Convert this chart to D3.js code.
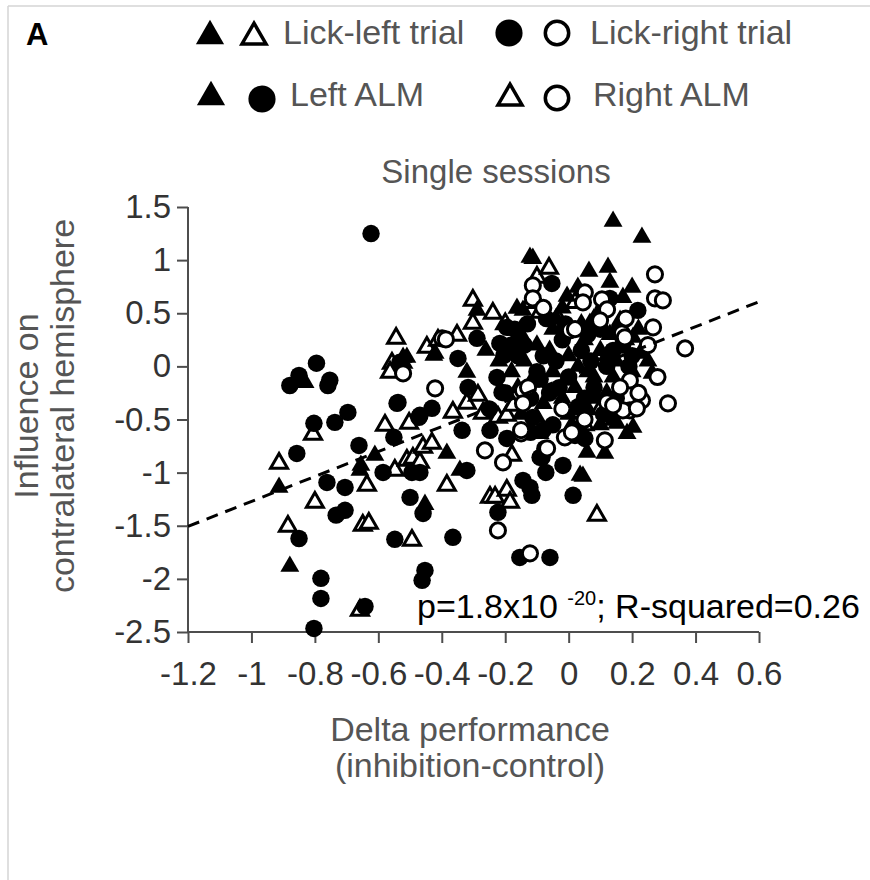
<!DOCTYPE html>
<html lang="en">
<head>
<meta charset="UTF-8">
<script src="https://d3js.org/d3.v7.min.js"></script>
<style>
  html, body { margin: 0; padding: 0; background: #fff; }
  svg { display: block; font-family: "Liberation Sans", Arial, sans-serif; }
</style>
</head>
<body>
<svg id="chart" width="870" height="880"></svg>
<script>
// lick-left trials, left ALM (filled triangles)
const leftAlmLickLeft = [
  [-0.831,-0.151],[-0.913,-1.139],[-0.879,-1.882],[-0.611,-0.838],[-0.655,-0.932],[-0.658,-0.979],
  [-0.522,0.085],[-0.519,0.028],[-0.425,0.104],[-0.453,-1.30],[-0.384,-0.819],
  [-0.122,1.026],[-0.289,0.527],[-0.163,0.546],[-0.144,0.527],[-0.261,0.151],[-0.421,0.122],
  [-0.51,0.085],[-0.321,-0.056],[-0.343,-0.979],[0.036,-1.026],
  [0.14,1.365],[0.231,1.214],[-0.113,1.016],[0.064,0.894],[0.124,0.932],[0.13,0.791],[0.20,0.744],
  [-0.005,0.659],[0.029,0.744],[0.171,0.649],[-0.021,0.358],[0.067,0.405],[0.162,0.433],
  [0.203,0.273],[0.225,0.122],[0.263,-0.066],[0.14,-0.508],[0.203,-0.574],
  [0.152,-0.536],[0.184,-0.631],[0.058,-0.809],[0.114,-0.819],[0.042,-0.602],[0.045,-1.035],[-0.09,-0.631],
  [-0.15,0.30],[-0.10,0.20],[-0.05,0.35],[0.0,0.10],[0.05,0.25],[0.10,0.15],[0.15,0.05],[0.20,-0.05],
  [-0.18,-0.05],[-0.12,-0.15],[-0.05,-0.05],[0.02,-0.20],[0.08,-0.10],[0.12,-0.25],[0.18,-0.15],
  [-0.08,-0.35],[0.0,-0.45],[0.06,-0.40],[0.10,-0.55],[-0.15,-0.45],[0.22,0.35],[-0.02,0.55],
  [0.08,0.45],[0.25,0.05],[-0.22,0.05],[0.03,0.00],[0.13,0.30],
  [-0.14,0.05],[-0.06,0.15],[0.04,0.40],[0.09,-0.30],[0.16,-0.42],[-0.02,-0.30],[-0.10,-0.48],
  [0.12,0.10],[0.18,0.25],[-0.04,0.45],[0.06,-0.05],[0.14,-0.10],[-0.16,-0.20],[0.01,-0.55]
];
// lick-right trials, left ALM (filled circles)
const leftAlmLickRight = [
  [-0.795,0.03],[-0.85,-0.085],[-0.879,-0.18],[-0.753,-0.13],[-0.759,-0.18],[-0.696,-0.433],
  [-0.737,-0.527],[-0.803,-0.536],[-0.857,-0.819],[-0.762,-1.092],[-0.705,-1.139],[-0.733,-1.40],
  [-0.705,-1.355],[-0.85,-1.62],[-0.781,-1.995],[-0.781,-2.184],[-0.803,-2.466],[-0.642,-2.26],
  [-0.661,-0.744],[-0.585,-0.998],[-0.551,-0.668],[-0.541,-0.348],[-0.472,-0.48],[-0.431,-0.395],
  [-0.494,-0.998],[-0.469,-0.998],[-0.50,-1.233],[-0.459,-1.384],[-0.548,-1.628],[-0.453,-1.92],[-0.462,-2.014],
  [-0.623,1.25],[-0.195,0.367],[-0.289,0.264],[-0.217,0.216],[-0.204,0.104],[-0.532,0.038],[-0.349,0.075],
  [-0.317,-0.198],[-0.538,-0.339],[-0.226,-0.104],[-0.21,-0.245],
  [-0.469,-0.461],[-0.336,-0.602],[-0.248,-0.602],[-0.195,-0.678],[-0.113,-0.48],[-0.081,-0.602],
  [-0.084,-0.856],[-0.018,-0.932],[-0.072,-0.998],[-0.321,-0.979],[-0.144,-1.073],[-0.122,-1.139],
  [-0.116,-1.214],[-0.223,-1.374],[0.014,-1.214],[-0.365,-1.609],[-0.154,-1.798],[-0.059,-1.798],
  [0.218,0.527],[0.13,0.64],[-0.053,0.781],[0.108,0.527],[0.051,-0.678],[-0.09,-0.856],[-0.075,-0.772],
  [-0.13,0.40],[-0.08,0.10],[-0.02,0.25],[0.04,0.15],[0.12,0.00],[0.17,0.20],[-0.16,0.10],[-0.10,-0.05],
  [-0.03,-0.20],[0.05,-0.30],[0.15,-0.30],[-0.12,-0.30],[-0.05,-0.55],[0.02,-0.65],[-0.20,-0.25],
  [0.10,0.35],[0.20,0.10],[-0.07,0.45],[0.00,-0.10],[0.07,0.05],[-0.25,-0.40],[-0.18,0.20],
  [-0.14,0.20],[-0.04,0.05],[0.06,0.30],[0.14,0.15],[-0.09,-0.12],[0.03,-0.38],[0.11,-0.45],
  [-0.06,-0.25],[0.19,0.00],[-0.17,0.35],[0.08,-0.20],[-0.01,0.40],[-0.12,-0.62],[0.16,0.35]
];
// lick-left trials, right ALM (open triangles)
const rightAlmLickLeft = [
  [-0.806,-0.64],[-0.913,-0.913],[-0.80,-1.28],[-0.885,-1.506],[-0.658,-2.296],[-0.649,-1.496],
  [-0.63,-1.478],[-0.636,-1.12],[-0.548,-0.979],[-0.579,-0.555],[-0.503,-0.536],[-0.544,0.264],
  [-0.557,0.028],[-0.563,-0.056],[-0.447,0.179],[-0.51,-0.885],[-0.491,-0.866],[-0.469,-0.904],
  [-0.459,-0.762],[-0.431,-0.725],[-0.384,-1.12],[-0.494,-1.638],
  [-0.10,0.838],[-0.302,0.621],[-0.239,0.499],[-0.302,0.405],[-0.412,0.245],[-0.352,0.292],
  [-0.365,-0.433],[-0.321,-0.348],[-0.286,-0.273],[-0.27,-0.442],
  [-0.223,-0.48],[-0.195,-0.461],[-0.176,-0.367],[-0.179,-0.838],[-0.248,-1.233],[-0.232,-1.233],
  [-0.195,-1.167],[-0.185,-1.28],[-0.062,0.922],[-0.09,0.508],[-0.034,0.452],[0.089,-1.402],
  [-0.2,0.40],[0.05,-0.55],[-0.12,0.60],[0.10,-0.40],[0.02,0.60]
];
// lick-right trials, right ALM (open circles)
const rightAlmLickRight = [
  [-0.522,-0.066],[-0.399,0.264],[-0.421,-0.207],[-0.113,0.762],[-0.113,0.64],[-0.387,0.254],
  [-0.144,-0.226],[-0.128,-0.198],[-0.144,-0.348],[-0.15,-0.631],[-0.264,-0.791],[-0.207,-0.904],
  [-0.068,-0.772],[-0.223,-1.544],[-0.122,-1.76],
  [0.272,0.866],[0.051,0.696],[0.045,0.602],[0.105,0.631],[0.272,0.64],[0.297,0.621],[0.266,0.367],
  [0.121,0.536],[0.162,0.311],[0.004,0.339],[0.099,0.433],
  [0.367,0.169],[0.313,-0.348],[0.231,-0.32],[0.193,-0.414],[0.171,-0.414],[0.121,-0.339],[0.14,-0.367],
  [0.168,0.311],[0.177,0.273],[0.193,-0.132],[0.162,-0.198],
  [0.215,-0.395],[0.114,-0.696],[-0.012,-0.668],[0.01,-0.621],
  [0.02,0.35],[0.05,-0.50],[-0.02,-0.40],[0.22,-0.25],[0.25,0.20],[-0.15,-0.60],[0.18,0.45],
  [0.28,-0.10],[-0.08,0.55]
];

const xTicks = [-1.2, -1, -0.8, -0.6, -0.4, -0.2, 0, 0.2, 0.4, 0.6];
const xTickLabels = ["-1.2", "-1", "-0.8", "-0.6", "-0.4", "-0.2", "0", "0.2", "0.4", "0.6"];
const yTicks = [1.5, 1, 0.5, 0, -0.5, -1, -1.5, -2, -2.5];
const yTickLabels = ["1.5", "1", "0.5", "0", "-0.5", "-1", "-1.5", "-2", "-2.5"];

// regression line end points
const fitX = [-1.2, 0.61];
const fitY = [-1.506, 0.62];

const svg = d3.select('#chart');

// light frame of the panel
svg.append('line').attr('x1', 8).attr('x2', 8).attr('y1', 6).attr('y2', 880)
  .attr('stroke', '#d4d4d4').attr('stroke-width', 1.5);
svg.append('line').attr('x1', 8).attr('x2', 870).attr('y1', 6).attr('y2', 6)
  .attr('stroke', '#d4d4d4').attr('stroke-width', 1.5);

const x = d3.scaleLinear().domain([-1.2, 0.6]).range([188, 759]);
const y = d3.scaleLinear().domain([-2.5, 1.5]).range([632, 207]);

const axisColor = '#4d4d4d';

// axes
const gx = svg.append('g')
  .attr('transform', `translate(0,${y(-2.5)})`)
  .call(d3.axisBottom(x).tickValues(xTicks).tickSize(11).tickPadding(19)
    .tickFormat((d, i) => xTickLabels[i]));
const gy = svg.append('g')
  .attr('transform', `translate(${x(-1.2)},0)`)
  .call(d3.axisLeft(y).tickValues(yTicks).tickSize(11).tickPadding(6)
    .tickFormat((d, i) => yTickLabels[i]));

[gx, gy].forEach(g => {
  g.select('.domain').attr('stroke', axisColor).attr('stroke-width', 2);
  g.selectAll('.tick line').attr('stroke', axisColor).attr('stroke-width', 2);
  g.selectAll('.tick text')
    .attr('fill', '#333')
    .style('font-size', '33px')
    .style('font-family', '"Liberation Sans", Arial, sans-serif');
});
gx.selectAll('.domain').attr('d', `M${x(-1.2)},0H${x(0.6)}`);
gy.selectAll('.domain').attr('d', `M0,${y(1.5)}V${y(-2.5)}`);

// markers
const triFill = d3.symbol().type(d3.symbolTriangle).size(155);
const triOpen = d3.symbol().type(d3.symbolTriangle).size(125);
const circFill = d3.symbol().type(d3.symbolCircle).size(240);
const circOpen = d3.symbol().type(d3.symbolCircle).size(180);

function drawSet(data, gen, filled) {
  svg.append('g')
    .selectAll('path')
    .data(data)
    .enter()
    .append('path')
    .attr('transform', d => `translate(${x(d[0])},${y(d[1])})`)
    .attr('d', gen)
    .attr('fill', filled ? '#000' : '#fff')
    .attr('stroke', '#000')
    .attr('stroke-width', filled ? 0 : 3);
}

drawSet(rightAlmLickLeft, triOpen, false);
drawSet(leftAlmLickRight, circFill, true);
drawSet(leftAlmLickLeft, triFill, true);
drawSet(rightAlmLickRight, circOpen, false);

// regression line
svg.append('line')
  .attr('x1', x(fitX[0])).attr('y1', y(fitY[0]))
  .attr('x2', x(fitX[1])).attr('y2', y(fitY[1]))
  .attr('stroke', '#000')
  .attr('stroke-width', 3)
  .attr('stroke-dasharray', '12,8');

// statistics
const stat = svg.append('text')
  .attr('x', 417).attr('y', 618)
  .attr('fill', '#000')
  .style('font-size', '34px');
stat.append('tspan').text('p=1.8x10 ');
stat.append('tspan').attr('dy', -13).style('font-size', '20px').text('-20');
stat.append('tspan').attr('dy', 13).text('; R-squared=0.26');

// titles
svg.append('text')
  .attr('x', 26).attr('y', 45)
  .style('font-size', '31px').style('font-weight', 'bold')
  .attr('fill', '#000')
  .text('A');

svg.append('text')
  .attr('x', 496).attr('y', 183)
  .attr('text-anchor', 'middle')
  .attr('fill', '#555')
  .style('font-size', '33px')
  .text('Single sessions');

svg.append('text')
  .attr('x', 470).attr('y', 741)
  .attr('text-anchor', 'middle')
  .attr('fill', '#555')
  .style('font-size', '34px')
  .text('Delta performance');
svg.append('text')
  .attr('x', 470).attr('y', 777)
  .attr('text-anchor', 'middle')
  .attr('fill', '#555')
  .style('font-size', '34px')
  .text('(inhibition-control)');

const yLab = svg.append('g').attr('transform', 'translate(0,406) rotate(-90)');
yLab.append('text').attr('x', 0).attr('y', 38)
  .attr('text-anchor', 'middle').attr('fill', '#555').style('font-size', '34px')
  .text('Influence on');
yLab.append('text').attr('x', 0).attr('y', 74)
  .attr('text-anchor', 'middle').attr('fill', '#555').style('font-size', '34px')
  .text('contralateral hemisphere');

// legend
const legTri = d3.symbol().type(d3.symbolTriangle).size(345);
const legTriOpen = d3.symbol().type(d3.symbolTriangle).size(250);
const legCirc = d3.symbol().type(d3.symbolCircle).size(580);
const legCircOpen = d3.symbol().type(d3.symbolCircle).size(430);

const legendItems = [
  {gen: legTri, filled: true, cx: 210, cy: 36},
  {gen: legTriOpen, filled: false, cx: 254, cy: 37},
  {gen: legCirc, filled: true, cx: 509, cy: 33},
  {gen: legCircOpen, filled: false, cx: 557, cy: 33},
  {gen: legTri, filled: true, cx: 211, cy: 97},
  {gen: legCirc, filled: true, cx: 262, cy: 99},
  {gen: legTriOpen, filled: false, cx: 510, cy: 98},
  {gen: legCircOpen, filled: false, cx: 557, cy: 98}
];
svg.append('g').selectAll('path')
  .data(legendItems)
  .enter()
  .append('path')
  .attr('transform', d => `translate(${d.cx},${d.cy})`)
  .attr('d', d => d.gen())
  .attr('fill', d => d.filled ? '#000' : '#fff')
  .attr('stroke', '#000')
  .attr('stroke-width', d => d.filled ? 0 : 3.5);

const legendTexts = [
  {t: 'Lick-left trial', x: 283, y: 44},
  {t: 'Lick-right trial', x: 590, y: 44},
  {t: 'Left ALM', x: 290, y: 106},
  {t: 'Right ALM', x: 593, y: 106}
];
svg.append('g').selectAll('text')
  .data(legendTexts)
  .enter()
  .append('text')
  .attr('x', d => d.x).attr('y', d => d.y)
  .attr('fill', '#555')
  .style('font-size', '34px')
  .text(d => d.t);
</script>
</body>
</html>
